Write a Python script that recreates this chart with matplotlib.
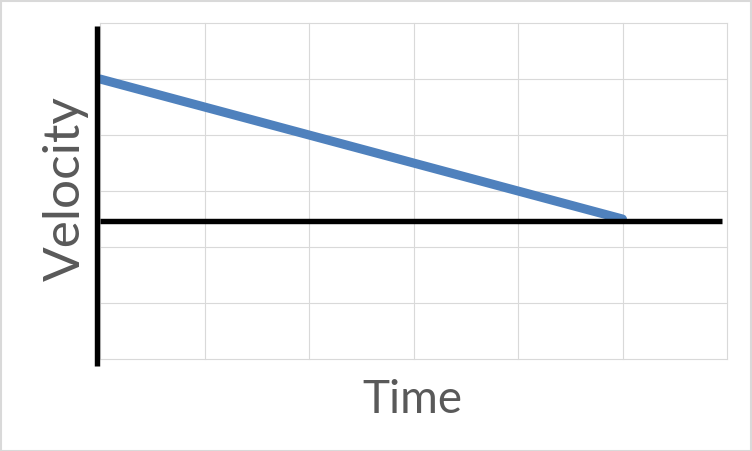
import matplotlib
matplotlib.use("Agg")
import matplotlib.pyplot as plt
import numpy as np
from matplotlib.lines import Line2D
from matplotlib.patches import Rectangle

time = [0, 5]
velocity = [2.5, 0]
x_ticks = [0, 1, 2, 3, 4, 5, 6]
y_ticks = [-2.5, -1.5, -0.5, 0.5, 1.5, 2.5, 3.5]
x_label = "Time"
y_label = "Velocity"

W, H = 752, 452
fig = plt.figure(figsize=(W / 100, H / 100), dpi=100)
fig.patch.set_facecolor("white")

# outer border
fig.patches.append(Rectangle((0.5 / W, 0.5 / H), (W - 2) / W, (H - 2) / H,
                             transform=fig.transFigure, fill=False,
                             edgecolor="#D9D9D9", linewidth=1.5))

left, right, top, bottom = 100, 727, 24, 360
ax = fig.add_axes([left / W, (H - bottom) / H, (right - left) / W, (bottom - top) / H])
ax.set_xlim(x_ticks[0], x_ticks[-1])
ax.set_ylim(y_ticks[0], y_ticks[-1])
ax.set_xticks(x_ticks)
ax.set_yticks(y_ticks)
ax.tick_params(length=0, labelleft=False, labelbottom=False)
ax.grid(True, color="#D9D9D9", linewidth=0.8)
for gl in ax.get_xgridlines() + ax.get_ygridlines():
    gl.set_clip_on(False)
for s in ax.spines.values():
    s.set_visible(False)
ax.set_axisbelow(True)

ax.plot(time, velocity, color="#4F81BD", linewidth=6.5, solid_capstyle="round", zorder=3)

# drawn axes
ax.add_line(Line2D([0, 0.992], [-0.03, -0.03], transform=ax.get_yaxis_transform(),
                   color="black", linewidth=3.9, clip_on=False, zorder=4,
                   solid_capstyle="butt"))
ax.add_line(Line2D([-0.005, -0.005], [-0.02, 0.991], transform=ax.transAxes,
                   color="black", linewidth=3.9, clip_on=False, zorder=4,
                   solid_capstyle="butt"))

fig.text(412 / W, (H - 413) / H, x_label, ha="center", va="baseline",
         fontsize=33, color="#595959", family="Lato")
fig.text(66 / W, (H - 189) / H, y_label, ha="center", va="center", rotation=90,
         fontsize=37, color="#595959", family="Lato")

fig.savefig("out.png", dpi=100)
